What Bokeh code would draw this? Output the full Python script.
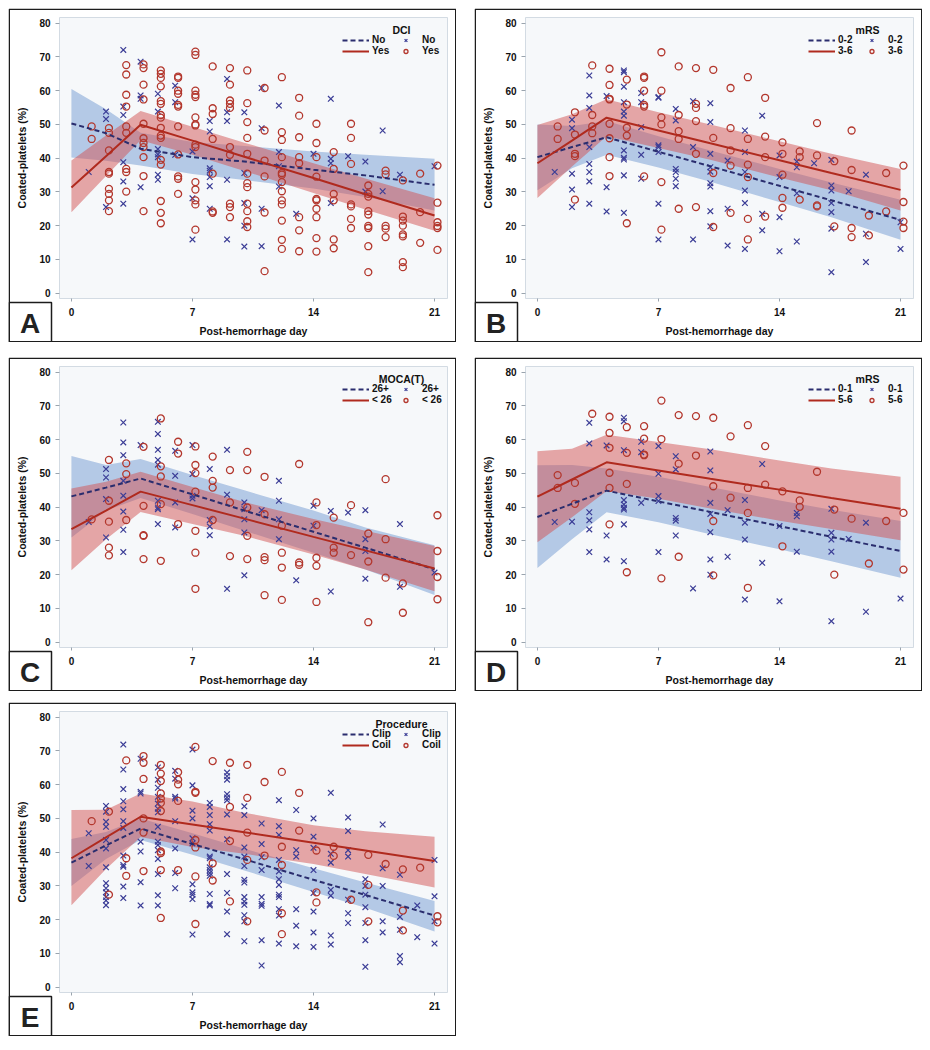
from bokeh.plotting import figure
from bokeh.models import Range1d, FixedTicker, Legend, LegendItem, Label
from bokeh.transform import dodge
from bokeh.layouts import column, row
from bokeh.embed import file_html
from bokeh.resources import INLINE

# ---------------- data ----------------
X_TICKS = [0, 7, 14, 21]
Y_TICKS = [0, 10, 20, 30, 40, 50, 60, 70, 80]
FIT_DAYS = [0, 2, 4, 7, 10, 14, 17, 21]

# Panel A: DCI
A_NO = {1: [35.9], 2: [53.8, 51.6, 25.5], 3: [72.1, 55.3, 52.8, 38.8, 33.1, 26.5],
        4: [68.6, 58.6, 57.6, 31.4], 5: [59.1, 53.8, 42.7, 41.1, 40.3, 35.1, 33.6],
        6: [61.5, 56.6, 41.0], 7: [42.0, 28.1, 15.9], 8: [51.0, 47.9, 37.0, 36.3, 34.4, 31.7, 25.0],
        9: [63.5, 53.6, 51.0, 33.6, 15.9], 10: [53.6, 35.6, 26.7, 20.0, 13.8],
        11: [60.8, 48.9, 25.0, 13.9], 12: [55.6, 41.8, 37.6, 31.6], 13: [23.5], 14: [41.3],
        15: [57.6, 39.8, 38.5, 26.7], 16: [40.6], 17: [39.0, 30.1], 18: [48.2, 30.2],
        19: [35.1], 21: [37.6]}
A_YES = {1: [49.4, 45.7], 2: [48.9, 47.5, 42.3, 35.9, 35.4, 30.9, 29.4, 27.5, 24.3],
         3: [67.6, 64.8, 58.8, 55.3, 49.4, 47.5, 36.8, 35.9, 30.1],
         4: [67.8, 66.7, 61.8, 57.4, 50.2, 45.9, 44.5, 43.3, 40.3, 34.7, 24.3],
         5: [66.0, 65.0, 63.8, 61.3, 56.9, 56.1, 52.8, 52.0, 49.0, 46.7, 46.0, 39.5, 38.1, 27.3, 23.8, 20.7],
         6: [64.2, 63.8, 60.0, 59.1, 55.8, 55.3, 49.4, 41.1, 34.6, 33.9, 29.4],
         7: [71.6, 70.6, 60.0, 58.8, 58.1, 52.1, 50.0, 49.7, 44.0, 43.3, 32.9, 30.7, 27.5, 26.3, 18.8],
         8: [67.2, 54.8, 53.1, 45.7, 35.4, 24.2, 23.8],
         9: [66.7, 61.8, 57.1, 56.1, 54.9, 43.3, 41.0, 26.5, 25.5, 22.5],
         10: [66.0, 56.3, 50.7, 46.0, 41.3, 35.4, 32.6, 31.4, 26.5, 24.3, 21.3, 19.6],
         11: [60.8, 48.2, 39.3, 34.6, 23.9, 6.5],
         12: [64.0, 47.7, 45.4, 40.3, 35.6, 35.1, 32.9, 30.2, 27.5, 26.3, 21.5, 15.8, 13.1],
         13: [57.9, 52.6, 46.2, 40.3, 38.5, 22.5, 18.6, 12.4],
         14: [50.2, 44.5, 40.3, 34.5, 27.9, 27.5, 25.0, 22.5, 16.3, 12.3],
         15: [41.8, 36.8, 29.4, 27.5, 15.9, 13.3], 16: [50.2, 46.0, 38.3, 26.3, 25.7, 22.0, 19.3],
         17: [31.9, 29.4, 28.6, 24.3, 23.3, 19.9, 19.3, 13.9, 6.2], 18: [36.3, 35.2, 19.9, 19.1, 16.6],
         19: [33.4, 22.7, 21.5, 20.0, 17.4, 16.8, 9.2, 7.7], 20: [35.4, 24.0, 14.9],
         21: [37.8, 26.8, 21.0, 19.9, 19.3, 12.8]}
A_NO_FIT = [50.3, 47.4, 42.8, 40.3, 39.0, 36.6, 34.9, 32.1]
A_NO_LO = [40.2, 39.2, 37.8, 35.3, 33.5, 31.0, 28.5, 24.5]
A_NO_HI = [60.5, 54.5, 47.5, 44.8, 43.6, 42.0, 41.0, 39.8]
A_YES_FIT = [31.3, 40.6, 49.9, 45.2, 40.4, 34.1, 29.3, 23.0]
A_YES_LO = [24.0, 34.7, 45.3, 41.0, 36.2, 29.7, 24.8, 18.5]
A_YES_HI = [39.3, 46.7, 54.0, 49.3, 44.6, 38.5, 34.0, 28.1]

# Panel B: mRS 0-2 / 3-6
B_LOW = {1: [35.9], 2: [51.4, 48.9, 35.4, 30.7, 25.5], 3: [64.5, 58.6, 54.9, 43.3, 38.3, 35.9, 33.1, 26.5],
         4: [58.4, 31.4, 24.2], 5: [66.0, 65.5, 61.2, 56.6, 53.8, 52.6, 42.3, 40.1, 39.6, 34.9, 23.8],
         6: [59.3, 56.6, 49.2, 41.0, 33.9], 7: [58.1, 57.9, 43.8, 43.3, 41.8, 26.5, 15.9],
         8: [54.6, 51.2, 36.8, 35.9, 33.9, 31.7], 9: [56.9, 43.3, 15.9],
         10: [56.3, 50.7, 41.3, 37.3, 36.0, 32.6, 31.6, 24.3, 19.8], 11: [39.3, 25.0, 14.1],
         12: [48.2, 41.8, 35.9, 30.4, 26.7, 13.1], 13: [52.6, 23.5, 18.6], 14: [40.8, 34.4, 22.5, 12.4],
         15: [39.0, 37.3, 29.6, 15.3], 16: [38.5], 17: [39.5, 31.9, 30.4, 26.7, 24.0, 19.1, 6.2],
         18: [30.2], 19: [35.1, 17.6, 9.2], 21: [21.0, 13.1]}
B_HIGH = {1: [49.4, 45.7], 2: [53.6, 47.0, 41.3, 40.6, 27.7], 3: [67.5, 52.8, 49.4, 47.4],
          4: [66.5, 61.7, 57.6, 57.4, 50.2, 45.9, 40.3, 34.7], 5: [63.3, 55.9, 49.0, 46.7, 20.7],
          6: [64.2, 63.8, 60.0, 55.8, 55.3, 34.6], 7: [71.4, 60.0, 52.1, 50.0, 32.9, 18.8],
          8: [67.2, 52.8, 48.0, 45.7, 25.0], 9: [66.7, 56.1, 54.9, 51.0, 41.3, 25.5],
          10: [66.2, 46.0, 35.6, 19.6], 11: [60.8, 48.9, 42.3, 37.8, 23.8],
          12: [64.0, 45.7, 38.1, 34.4, 22.0, 15.9], 13: [57.9, 46.4, 40.3, 22.7],
          14: [44.7, 41.3, 35.1, 28.2, 25.3], 15: [42.0, 40.3, 27.7], 16: [50.4, 40.8, 26.0, 25.7],
          17: [39.1, 19.8], 18: [48.2, 36.5, 19.3, 16.6], 19: [23.0, 17.1], 20: [35.6, 24.2],
          21: [37.8, 27.0, 21.2, 19.3]}
B_LOW_FIT = [40.3, 43.3, 46.2, 41.9, 37.6, 31.8, 27.5, 21.7]
B_LOW_LO = [30.5, 37.0, 41.0, 37.2, 33.0, 27.0, 22.5, 15.8]
B_LOW_HI = [50.0, 49.5, 51.0, 46.5, 42.3, 36.8, 32.8, 27.7]
B_HIGH_FIT = [38.5, 45.2, 52.0, 48.2, 44.4, 39.4, 35.6, 30.6]
B_HIGH_LO = [28.2, 37.5, 46.5, 43.0, 39.5, 34.3, 30.5, 24.5]
B_HIGH_HI = [49.8, 53.0, 57.5, 53.6, 50.0, 45.0, 41.3, 36.8]

# Panel C: MOCA(T) 26+ / < 26
C_HI = {1: [35.6], 2: [51.3, 48.8, 42.4, 31.0], 3: [65.1, 59.2, 55.4, 47.8, 43.4, 38.7, 33.3, 26.7],
        4: [58.4], 5: [65.3, 61.7, 57.0, 54.0, 52.6, 41.9, 39.9, 39.4, 35.0], 6: [56.7, 49.3, 41.4, 34.0],
        7: [58.4, 49.8, 43.4, 42.6], 8: [51.3, 36.2, 34.3, 31.7], 9: [57.0, 43.7, 15.8],
        10: [41.4, 39.4, 36.4, 32.5, 19.8], 11: [39.1], 12: [47.8, 41.9, 36.4, 30.5], 13: [18.3],
        14: [40.4, 34.5], 15: [38.9, 15.0], 16: [38.4], 17: [39.1, 30.5, 27.0, 18.8],
        19: [35.0, 16.4], 21: [20.6]}
C_LO = {1: [36.4], 2: [54.0, 41.9, 35.7, 28.0, 25.7], 3: [53.0, 49.8, 36.2],
        4: [57.9, 40.4, 31.7, 31.5, 24.6], 5: [66.3, 52.1, 49.1, 40.9, 24.1], 6: [59.4, 55.9, 35.0],
        7: [58.0, 52.5, 50.1, 44.6, 33.0, 26.5, 15.8], 8: [55.0, 47.8, 45.8, 36.2], 9: [51.0, 41.4, 25.5],
        10: [56.4, 51.0, 39.9, 31.5, 24.6], 11: [49.0, 37.9, 25.2, 24.3, 13.9],
        12: [34.5, 26.5, 22.1, 12.5], 13: [52.8, 23.6, 22.9], 14: [41.4, 34.7, 25.0, 22.6, 11.9],
        15: [36.9, 28.0, 26.5], 16: [40.6, 25.8], 17: [32.2, 23.9, 5.9], 18: [48.3, 30.5, 19.1],
        19: [17.4, 8.7], 21: [37.6, 27.0, 19.3, 12.7]}
C_HI_FIT = [43.2, 45.8, 48.5, 43.8, 39.0, 32.7, 28.0, 21.6]
C_HI_LO = [31.0, 39.0, 42.7, 38.0, 33.0, 26.5, 21.5, 14.0]
C_HI_HI = [55.2, 52.5, 54.3, 49.5, 45.0, 39.0, 34.0, 28.7]
C_LO_FIT = [33.5, 39.0, 44.6, 40.6, 36.6, 31.2, 27.2, 21.8]
C_LO_LO = [21.3, 30.5, 38.6, 35.0, 31.5, 26.0, 21.5, 15.1]
C_LO_HI = [45.5, 47.5, 50.5, 46.0, 41.5, 36.5, 33.0, 28.5]

# Panel D: mRS 0-1 / 5-6
D_LOW = {1: [35.6], 2: [35.7], 3: [65.0, 58.9, 38.5, 36.1, 33.4, 26.7], 4: [58.3, 31.6, 24.5],
         5: [66.5, 65.5, 56.9, 42.1, 40.8, 39.8, 39.3, 34.9, 24.0], 6: [59.4, 56.3, 41.3],
         7: [58.1, 49.9, 43.3, 41.8, 26.7], 8: [55.1, 51.2, 36.8, 36.0, 31.6], 9: [15.9],
         10: [56.5, 50.9, 41.3, 38.0, 32.6, 24.5, 20.0], 11: [39.1, 25.3], 12: [42.1, 35.4, 30.4, 12.6],
         13: [52.8, 23.5], 14: [34.4, 12.1], 15: [38.3, 37.3, 26.8], 17: [39.5, 32.4, 30.4, 26.8, 6.2],
         18: [30.6], 19: [35.4, 9.0], 21: [12.9]}
D_HIGH = {1: [49.5, 45.7], 2: [47.2, 41.0], 3: [67.7], 4: [66.8, 62.0, 57.6, 50.2, 45.7, 34.9],
          5: [63.7, 56.1, 46.9, 20.7], 6: [64.0, 60.3, 55.6, 55.4], 7: [71.6, 60.2, 18.9],
          8: [67.3, 52.9, 25.3], 9: [67.0, 55.3], 10: [66.5, 46.2, 35.9, 19.8], 11: [61.0, 42.8],
          12: [64.3, 45.7, 38.3, 16.1], 13: [58.1, 46.7], 14: [44.7, 28.4], 15: [42.0, 40.1],
          16: [50.5], 17: [39.3, 20.0], 18: [36.6], 19: [23.3], 20: [35.9], 21: [38.3, 21.5]}
D_LOW_FIT = [37.1, 41.0, 44.9, 41.7, 38.6, 34.4, 31.2, 27.0]
D_LOW_LO = [22.0, 30.5, 38.5, 35.5, 32.0, 27.5, 24.0, 19.1]
D_LOW_HI = [52.4, 52.5, 51.5, 49.0, 46.0, 42.0, 39.2, 35.9]
D_HIGH_FIT = [43.1, 48.2, 53.3, 50.9, 48.4, 45.2, 42.7, 39.5]
D_HIGH_LO = [29.6, 37.0, 44.8, 42.5, 39.6, 36.0, 33.5, 30.2]
D_HIGH_HI = [56.6, 57.3, 61.5, 59.3, 57.2, 53.8, 51.5, 49.0]

# Panel E: Procedure Clip / Coil
E_CLIP = {1: [45.6, 35.9],
          2: [53.7, 52.0, 49.0, 47.5, 43.6, 41.1, 35.5, 30.8, 29.3, 28.1, 26.7, 25.7, 24.3],
          3: [71.9, 64.5, 58.7, 55.1, 52.7, 49.2, 47.2, 39.0, 36.2, 35.7, 29.8, 26.4],
          4: [67.7, 57.9, 57.4, 43.1, 40.2, 31.1, 24.2],
          5: [65.1, 61.5, 59.1, 56.4, 54.4, 52.9, 51.8, 47.5, 43.1, 42.1, 40.6, 38.0, 33.5, 27.2, 24.2],
          6: [64.1, 61.8, 56.4, 55.9, 49.2, 41.1, 33.8, 29.3],
          7: [70.4, 59.8, 52.3, 50.0, 44.1, 42.6, 30.5, 28.1, 27.4, 26.1, 15.6],
          8: [54.6, 53.4, 51.0, 48.3, 46.4, 38.7, 38.2, 35.5, 34.7, 33.8, 33.0, 27.6, 24.6, 24.2],
          9: [63.6, 62.5, 61.5, 57.2, 56.2, 55.4, 51.2, 43.8, 33.5, 27.9, 22.4, 15.7],
          10: [53.6, 51.0, 41.4, 38.7, 35.9, 31.8, 31.0, 26.7, 25.4, 24.4, 21.3, 19.5, 13.6],
          11: [48.5, 42.4, 38.5, 34.7, 26.7, 24.7, 24.1, 13.9, 6.4],
          12: [55.4, 47.7, 45.1, 37.7, 34.3, 32.0, 30.3, 27.4, 26.7, 23.1, 21.2, 12.9],
          13: [52.5, 40.6, 38.7, 23.1, 18.2, 12.1],
          14: [50.0, 44.6, 41.3, 34.7, 27.9, 22.4, 16.2, 11.9],
          15: [57.6, 39.5, 36.9, 28.8, 27.1, 15.3, 12.6],
          16: [50.3, 46.3, 40.6, 38.7, 25.9, 21.9, 19.0],
          17: [32.0, 30.0, 27.4, 23.7, 19.0, 13.9, 6.0],
          18: [48.2, 35.2, 30.0, 19.5, 16.2], 19: [33.3, 20.8, 17.0, 9.2, 7.4],
          20: [24.2, 14.8], 21: [37.7, 26.9, 19.5, 12.9]}
E_COIL = {1: [49.2], 2: [52.0, 27.4], 3: [67.2, 38.2, 33.0], 4: [68.5, 66.5, 61.7, 50.0, 45.8, 34.4],
          5: [65.9, 63.3, 61.1, 57.4, 55.9, 54.6, 52.2, 40.2, 39.7, 34.7, 20.5],
          6: [63.7, 61.5, 60.1, 55.2, 34.7], 7: [71.2, 57.9, 57.6, 43.6, 41.4, 32.8, 18.7],
          8: [67.0, 36.7, 31.6], 9: [66.5, 53.4, 43.3, 25.4], 10: [65.9, 56.1, 45.8, 37.7, 19.5],
          11: [60.8, 39.0], 12: [63.8, 41.6, 36.2, 21.9, 15.7], 13: [57.6, 46.4],
          14: [40.5, 28.1, 25.1], 15: [41.6, 38.9], 16: [25.9], 17: [39.2, 30.3, 19.5],
          18: [36.5], 19: [34.9, 22.7, 16.8], 20: [35.4], 21: [21.0, 19.2]}
E_CLIP_FIT = [36.9, 42.0, 47.0, 42.4, 37.9, 31.8, 27.3, 21.2]
E_CLIP_LO = [30.0, 38.0, 43.6, 39.2, 34.6, 28.2, 23.5, 16.5]
E_CLIP_HI = [43.9, 46.0, 50.0, 45.6, 41.0, 35.2, 31.0, 25.5]
E_COIL_FIT = [38.2, 44.4, 50.5, 48.2, 45.9, 42.8, 40.5, 37.4]
E_COIL_LO = [24.3, 35.0, 44.5, 41.5, 39.5, 36.5, 33.5, 29.5]
E_COIL_HI = [52.5, 52.6, 57.4, 55.0, 51.7, 48.0, 46.2, 44.6]

PANELS = [
    ("A", "DCI", "No", "Yes", A_NO, A_YES, A_NO_FIT, A_NO_LO, A_NO_HI, A_YES_FIT, A_YES_LO, A_YES_HI),
    ("B", "mRS", "0-2", "3-6", B_LOW, B_HIGH, B_LOW_FIT, B_LOW_LO, B_LOW_HI, B_HIGH_FIT, B_HIGH_LO, B_HIGH_HI),
    ("C", "MOCA(T)", "26+", "< 26", C_HI, C_LO, C_HI_FIT, C_HI_LO, C_HI_HI, C_LO_FIT, C_LO_LO, C_LO_HI),
    ("D", "mRS", "0-1", "5-6", D_LOW, D_HIGH, D_LOW_FIT, D_LOW_LO, D_LOW_HI, D_HIGH_FIT, D_HIGH_LO, D_HIGH_HI),
    ("E", "Procedure", "Clip", "Coil", E_CLIP, E_COIL, E_CLIP_FIT, E_CLIP_LO, E_CLIP_HI, E_COIL_FIT, E_COIL_LO, E_COIL_HI),
]

# ---------------- style ----------------
FONT = "Liberation Sans"
X_COLOR = "#3b3d96"
O_COLOR = "#b3372d"
BLUE_LINE = "#2a2d6e"
RED_LINE = "#b02a1e"
BLUE_BAND = "#7199d1"
RED_BAND = "#d15151"
BOX_COLOR = "#1c1c1c"
W, H = 448, 334
FRAME_W, FRAME_H = 388, 281
LETTER_W, LETTER_H = 43, 40


def flatten(groups):
    days, vals = [], []
    for d, vs in groups.items():
        for v in vs:
            days.append(d)
            vals.append(v)
    return dict(day=days, val=vals)


def no_frame_align(fig):
    if "frame_align" in fig.properties():
        fig.frame_align = False


def make_overlay(letter):
    # transparent pixel-space layer drawn over the panel: outer box + panel-letter box
    q = figure(frame_width=W, frame_height=H, output_backend="svg", toolbar_location=None,
               x_range=Range1d(0, W), y_range=Range1d(0, H),
               x_axis_type=None, y_axis_type=None, min_border=0,
               background_fill_alpha=0, border_fill_alpha=0, outline_line_color=None)
    no_frame_align(q)
    q.quad(left=0.75, right=W - 0.75, bottom=0.75, top=H - 0.75,
           fill_color=None, line_color=BOX_COLOR, line_width=1.5)
    q.quad(left=0.75, right=LETTER_W, bottom=0.75, top=LETTER_H,
           fill_color="white", line_color=BOX_COLOR, line_width=1.5)
    q.add_layout(Label(x=LETTER_W / 2, y=LETTER_H / 2 - 1, text=letter,
                       text_align="center", text_baseline="middle",
                       text_font=FONT, text_font_size="28px", text_font_style="bold",
                       text_color="#222222"))
    q.margin = (-H, 0, 0, 0)
    return q


def make_panel(letter, title, lab1, lab2, pts1, pts2, fit1, lo1, hi1, fit2, lo2, hi2):
    p = figure(width=W, height=H, output_backend="svg", toolbar_location=None,
               x_range=Range1d(-0.69, 21.75), y_range=Range1d(-1.6, 81.7),
               min_border_left=51, min_border_right=9, min_border_top=9, min_border_bottom=44,
               background_fill_color="#f6f8fa", border_fill_color="white",
               outline_line_color="#d3dbe3", outline_line_width=1)
    no_frame_align(p)
    p.grid.visible = False

    p.varea(x=FIT_DAYS, y1=lo1, y2=hi1, fill_color=BLUE_BAND, fill_alpha=0.5)
    p.varea(x=FIT_DAYS, y1=lo2, y2=hi2, fill_color=RED_BAND, fill_alpha=0.5)

    s1 = p.scatter(x="day", y="val", source=flatten(pts1), marker="x", size=8,
                   line_color=X_COLOR, line_width=1.2)
    s2 = p.scatter(x=dodge("day", 0.17), y="val", source=flatten(pts2), marker="circle", size=7,
                   fill_color=None, line_color=O_COLOR, line_width=1.3)

    l1 = p.line(FIT_DAYS, fit1, line_color=BLUE_LINE, line_width=2, line_dash="5 3")
    l2 = p.line(FIT_DAYS, fit2, line_color=RED_LINE, line_width=2)

    for ax in (p.xaxis[0], p.yaxis[0]):
        ax.axis_line_color = None
        ax.major_tick_line_color = "#9aa4ae"
        ax.minor_tick_line_color = None
        ax.major_tick_in = 0
        ax.major_label_text_font = FONT
        ax.major_label_text_font_style = "bold"
        ax.major_label_text_font_size = "10px"
        ax.major_label_text_color = "#111111"
        ax.axis_label_text_font = FONT
        ax.axis_label_text_font_style = "bold"
        ax.axis_label_text_font_size = "10.5px"
        ax.axis_label_text_color = "#111111"
    p.xaxis.ticker = FixedTicker(ticks=X_TICKS)
    p.yaxis.ticker = FixedTicker(ticks=Y_TICKS)
    p.xaxis.major_tick_out = 3
    p.yaxis.major_tick_out = 4
    p.xaxis.major_label_standoff = 6
    p.yaxis.major_label_standoff = 5
    p.xaxis.axis_label = "Post-hemorrhage day"
    p.yaxis.axis_label = "Coated-platelets (%)"
    p.xaxis.axis_label_standoff = 6
    p.yaxis.axis_label_standoff = 8

    legend = Legend(items=[LegendItem(label=lab1, renderers=[l1]),
                           LegendItem(label=lab1, renderers=[s1]),
                           LegendItem(label=lab2, renderers=[l2]),
                           LegendItem(label=lab2, renderers=[s2])],
                    orientation="horizontal", ncols=2, location="top_right",
                    title=title, title_text_alpha=0, title_text_font=FONT,
                    title_text_font_size="10px", title_text_font_style="bold", title_standoff=1,
                    label_text_font=FONT, label_text_font_size="10px", label_text_font_style="bold",
                    label_text_color="#111111", glyph_width=27, glyph_height=10, label_height=10,
                    label_standoff=3, spacing=0, padding=0, margin=5,
                    background_fill_alpha=0, border_line_color=None)
    p.add_layout(legend)

    p.add_layout(Label(x=FRAME_W - 46, y=FRAME_H - 12, x_units="screen", y_units="screen",
                       text=title, text_align="center", text_baseline="alphabetic",
                       text_font=FONT, text_font_size="10.5px", text_font_style="bold",
                       text_color="#111111"))

    return column(p, make_overlay(letter), spacing=0)


cols = [make_panel(*spec) for spec in PANELS]
cols[2].margin = (15, 0, 0, 0)
cols[3].margin = (15, 0, 0, 0)
cols[4].margin = (11, 0, 0, 0)
layout = column(row(cols[0], cols[1], spacing=18),
                row(cols[2], cols[3], spacing=18),
                cols[4], spacing=0, margin=(8, 0, 0, 8))

open("out.html", "w").write(file_html(layout, INLINE))
